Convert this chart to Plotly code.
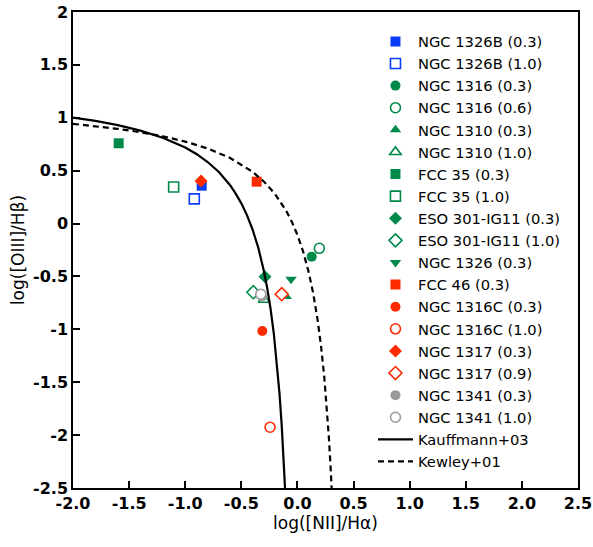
import plotly.graph_objects as go

# ---- data ----
names = ["NGC 1326B (0.3)", "NGC 1326B (1.0)", "NGC 1316 (0.3)", "NGC 1316 (0.6)",
         "NGC 1310 (0.3)", "NGC 1310 (1.0)", "FCC 35 (0.3)", "FCC 35 (1.0)",
         "ESO 301-IG11 (0.3)", "ESO 301-IG11 (1.0)", "NGC 1326 (0.3)", "FCC 46 (0.3)",
         "NGC 1316C (0.3)", "NGC 1316C (1.0)", "NGC 1317 (0.3)", "NGC 1317 (0.9)",
         "NGC 1341 (0.3)", "NGC 1341 (1.0)"]
nii_ha = [-0.853, -0.919, 0.127, 0.195, -0.10, -0.298, -1.593, -1.103,
          -0.289, -0.393, -0.057, -0.363, -0.313, -0.244, -0.859, -0.140,
          -0.316, -0.327]
oiii_hb = [0.358, 0.233, -0.313, -0.234, -0.69, -0.72, 0.759, 0.346,
           -0.502, -0.649, -0.527, 0.396, -1.015, -1.925, 0.403, -0.668,
           -0.69, -0.668]

kauff_x = [-2.0, -1.8, -1.6, -1.4, -1.2, -1.0, -0.9, -0.8, -0.7, -0.6, -0.55, -0.5,
           -0.45, -0.4, -0.35, -0.3, -0.27, -0.24, -0.21, -0.18, -0.16, -0.14, -0.12, -0.11]
kauff_y = [1.002, 0.970, 0.930, 0.879, 0.812, 0.719, 0.658, 0.582, 0.487, 0.362, 0.283, 0.191,
           0.080, -0.056, -0.225, -0.443, -0.606, -0.803, -1.046, -1.352, -1.605, -1.911, -2.288, -2.513]
kewley_x = [-2.0, -1.8, -1.6, -1.4, -1.2, -1.0, -0.8, -0.6, -0.4, -0.3, -0.2, -0.1, -0.05,
            0.0, 0.05, 0.1, 0.14, 0.18, 0.21, 0.24, 0.26, 0.28, 0.295, 0.305]
kewley_y = [0.943, 0.921, 0.895, 0.864, 0.825, 0.775, 0.710, 0.620, 0.489, 0.398, 0.280, 0.120, 0.017,
            -0.108, -0.262, -0.459, -0.658, -0.913, -1.156, -1.462, -1.715, -2.021, -2.296, -2.507]

x_ticks = [-2.0, -1.5, -1.0, -0.5, 0.0, 0.5, 1.0, 1.5, 2.0, 2.5]
x_tick_text = ["-2.0", "-1.5", "-1.0", "-0.5", "0.0", "0.5", "1.0", "1.5", "2.0", "2.5"]
y_ticks = [2, 1.5, 1, 0.5, 0, -0.5, -1, -1.5, -2, -2.5]
y_tick_text = ["2", "1.5", "1", "0.5", "0", "-0.5", "-1", "-1.5", "-2", "-2.5"]

# ---- styles ----
BLUE = "#0a3cf5"
GREEN = "#008a4a"
RED = "#ff2a00"
GRAY = "#9a9a9a"
styles = [
    ("square", BLUE, True), ("square", BLUE, False),
    ("circle", GREEN, True), ("circle", GREEN, False),
    ("triangle-up", GREEN, True), ("triangle-up", GREEN, False),
    ("square", GREEN, True), ("square", GREEN, False),
    ("diamond", GREEN, True), ("diamond", GREEN, False),
    ("triangle-down", GREEN, True), ("square", RED, True),
    ("circle", RED, True), ("circle", RED, False),
    ("diamond", RED, True), ("diamond", RED, False),
    ("circle", GRAY, True), ("circle", GRAY, False),
]
sizes = {"square": 10, "circle": 10, "triangle-up": 10, "triangle-down": 10, "diamond": 10}

fig = go.Figure()
for i, name in enumerate(names):
    sym, col, filled = styles[i]
    fig.add_trace(go.Scatter(
        x=[nii_ha[i]], y=[oiii_hb[i]], mode="markers", name=name,
        marker=dict(symbol=sym, size=sizes[sym],
                    color=col if filled else "white",
                    line=dict(color=col, width=0 if filled else 1.6)),
    ))

fig.add_trace(go.Scatter(x=kauff_x, y=kauff_y, mode="lines", name="Kauffmann+03",
                         line=dict(color="black", width=2.2)))
fig.add_trace(go.Scatter(x=kewley_x, y=kewley_y, mode="lines", name="Kewley+01",
                         line=dict(color="black", width=2.2, dash="6px,4px")))

axis_common = dict(showline=True, linecolor="black", linewidth=1.5, mirror=True,
                   ticks="inside", ticklen=7, tickwidth=1.5, tickcolor="black",
                   showgrid=False, zeroline=False, automargin=False,
                   tickfont=dict(family="DejaVu Sans", size=16, color="black", weight="bold"))

fig.update_layout(
    width=593, height=547,
    margin=dict(l=73, r=15, t=12, b=59),
    paper_bgcolor="white", plot_bgcolor="white",
    font=dict(family="DejaVu Sans", color="black"),
    showlegend=True,
    legend=dict(x=0.594, y=0.972, xanchor="left", yanchor="top",
                bgcolor="rgba(0,0,0,0)", borderwidth=0, maxheight=1,
                font=dict(family="DejaVu Sans", size=14.7, color="black"),
                itemwidth=35),
    xaxis=dict(range=[-2, 2.5], tickvals=x_ticks, ticktext=x_tick_text,
               title=dict(text="log([NII]/Hα)", font=dict(size=17), standoff=5),
               **axis_common),
    yaxis=dict(range=[-2.5, 2], tickvals=y_ticks, ticktext=y_tick_text,
               title=dict(text="log([OIII]/Hβ)", font=dict(size=17), standoff=4),
               **axis_common),
)

fig.write_html("out.html", config={"displayModeBar": False},
               post_script="document.body.style.margin='0';")
